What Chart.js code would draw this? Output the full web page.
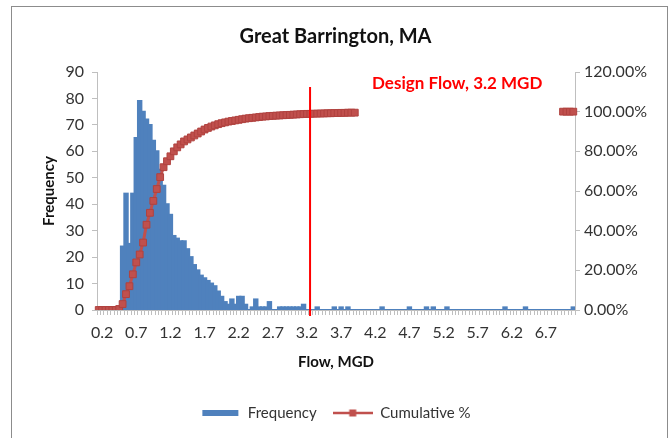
<!DOCTYPE html>
<html>
<head>
<meta charset="utf-8">
<script src="https://cdn.jsdelivr.net/npm/chart.js@4.4.1/dist/chart.umd.min.js"></script>
<style>
  html, body { margin: 0; padding: 0; background: #fff; }
  #wrap { position: relative; width: 671px; height: 438px; overflow: hidden; }
  #frame { position: absolute; left: 11px; top: 6px; width: 657px; height: 460px; border: 1px solid #8c8c8c; box-sizing: border-box; pointer-events: none; }
</style>
</head>
<body>
<div id="wrap">
  <canvas id="chart" width="671" height="438"></canvas>
  <div id="frame"></div>
</div>
<script>
// flow bins (MGD), 0.05 wide
const flowBins = [
  '0.15','0.20','0.25','0.30','0.35','0.40','0.45','0.50','0.55','0.60',
  '0.65','0.70','0.75','0.80','0.85','0.90','0.95','1.00','1.05','1.10',
  '1.15','1.20','1.25','1.30','1.35','1.40','1.45','1.50','1.55','1.60',
  '1.65','1.70','1.75','1.80','1.85','1.90','1.95','2.00','2.05','2.10',
  '2.15','2.20','2.25','2.30','2.35','2.40','2.45','2.50','2.55','2.60',
  '2.65','2.70','2.75','2.80','2.85','2.90','2.95','3.00','3.05','3.10',
  '3.15','3.20','3.25','3.30','3.35','3.40','3.45','3.50','3.55','3.60',
  '3.65','3.70','3.75','3.80','3.85','3.90','3.95','4.00','4.05','4.10',
  '4.15','4.20','4.25','4.30','4.35','4.40','4.45','4.50','4.55','4.60',
  '4.65','4.70','4.75','4.80','4.85','4.90','4.95','5.00','5.05','5.10',
  '5.15','5.20','5.25','5.30','5.35','5.40','5.45','5.50','5.55','5.60',
  '5.65','5.70','5.75','5.80','5.85','5.90','5.95','6.00','6.05','6.10',
  '6.15','6.20','6.25','6.30','6.35','6.40','6.45','6.50','6.55','6.60',
  '6.65','6.70','6.75','6.80','6.85','6.90','6.95','7.00','7.05','7.10'
];

const frequency = [
  0,0,0,0,0,0,0,24,44,25,
  44,65,79,75,72,70,64,60,53,47,
  40,36,28,27,26,26,23,20,17,15,
  13,12,11,10,9,7,5,3,2,4,
  2,5,5,2,0,1,4,1,1,1,
  3,0,0,1,1,1,1,1,1,1,
  2,0,0,0,1,0,0,0,0,1,
  0,1,0,1,0,0,0,0,0,0,
  0,0,0,1,0,0,0,0,0,0,
  0,1,0,0,0,0,1,0,1,0,
  0,0,1,0,0,0,0,0,0,0,
  0,0,0,0,0,0,0,0,0,1,
  0,0,0,0,0,1,0,0,0,0,
  0,0,0,0,0,0,0,0,0,1
];

// cumulative %, hidden part behind the note box left empty
const cumulative = [
  0,0,0,0,0,0,0.5,3,8,12,
  18,24,28,34,43,49,55,61,67,72,
  75,77.5,80,82,83.5,85,86,87,88,89,
  90,91,91.8,92.5,93.1,93.7,94.2,94.6,95,95.3,
  95.6,95.9,96.2,96.5,96.7,96.9,97.1,97.3,97.5,97.6,
  97.8,97.9,98,98.1,98.2,98.3,98.4,98.5,98.6,98.7,
  98.8,98.9,98.9,99,99,99.1,99.1,99.2,99.2,99.3,
  99.3,99.4,99.4,99.5,99.5,99.5,null,null,null,null,
  null,null,null,null,null,null,null,null,null,null,
  null,null,null,null,null,null,null,null,null,null,
  null,null,null,null,null,null,null,null,null,null,
  null,null,null,null,null,null,null,null,null,null,
  null,null,null,null,null,null,null,null,null,null,
  null,null,null,null,null,null,100,100,100,100
];

const tickLabels = ['0.2','0.7','1.2','1.7','2.2','2.7','3.2','3.7','4.2','4.7','5.2','5.7','6.2','6.7'];
const designIndex = 61; // 3.2 MGD
const designLabel = 'Design Flow, 3.2 MGD';

const BLUE = '#4F81BD';
const RED = '#C0504D';
const TXT = '#333333';
const AXIS = '#BFBFBF';
const FONT = 'Lato, "Open Sans", sans-serif';

function legendIcon(kind) {
  const c = document.createElement('canvas');
  c.width = 40; c.height = 10;
  const g = c.getContext('2d');
  if (kind === 'bar') {
    g.fillStyle = BLUE;
    g.fillRect(2, 2, 36, 6);
  } else {
    g.strokeStyle = RED;
    g.lineWidth = 2.5;
    g.beginPath(); g.moveTo(0, 5); g.lineTo(40, 5); g.stroke();
    g.fillStyle = RED;
    g.fillRect(16.5, 1.5, 7, 7);
  }
  return c;
}

const designFlow = {
  id: 'designFlow',
  afterDatasetsDraw(chart) {
    const {ctx, chartArea, scales} = chart;
    const x = scales.x.getPixelForValue(designIndex + 0.9);
    ctx.save();
    ctx.strokeStyle = '#FF0000';
    ctx.lineWidth = 2;
    ctx.beginPath();
    ctx.moveTo(x, chartArea.top + 15);
    ctx.lineTo(x, chartArea.bottom + 6);
    ctx.stroke();
    ctx.fillStyle = '#FF0000';
    ctx.font = 'bold 17px ' + FONT;
    ctx.textAlign = 'center';
    ctx.textBaseline = 'middle';
    ctx.fillText(designLabel, scales.x.getPixelForValue(105), scales.y1.getPixelForValue(114));
    ctx.restore();
  }
};

const cht = document.getElementById('chart');

new Chart(cht, {
  type: 'bar',
  data: {
    labels: flowBins,
    datasets: [
      {
        label: 'Frequency',
        data: frequency,
        backgroundColor: BLUE,
        borderWidth: 0,
        barPercentage: 1,
        categoryPercentage: 1,
        inflateAmount: 1,
        yAxisID: 'y',
        order: 2
      },
      {
        type: 'line',
        label: 'Cumulative %',
        data: cumulative,
        borderColor: RED,
        borderWidth: 3,
        pointStyle: 'rect',
        pointRadius: 4.8,
        pointBackgroundColor: RED,
        pointBorderColor: '#B0423F',
        pointBorderWidth: 1,
        spanGaps: false,
        yAxisID: 'y1',
        order: 1
      }
    ]
  },
  options: {
    responsive: false,
    animation: false,
    layout: { padding: { left: 0, right: 0, top: 0, bottom: 7.5 } },
    plugins: {
      tooltip: { enabled: false },
      title: {
        display: true,
        text: 'Great Barrington, MA',
        color: '#111',
        font: { family: FONT, size: 20, weight: 'bold' },
        padding: { top: 25, bottom: 23 }
      },
      legend: {
        position: 'bottom',
        labels: {
          usePointStyle: true,
          pointStyleWidth: 40,
          padding: 16,
          color: TXT,
          font: { family: FONT, size: 15 },
          generateLabels() {
            return [
              { text: 'Frequency', pointStyle: legendIcon('bar'), fillStyle: BLUE, strokeStyle: BLUE, lineWidth: 0, datasetIndex: 0, fontColor: TXT },
              { text: 'Cumulative %', pointStyle: legendIcon('line'), fillStyle: RED, strokeStyle: RED, lineWidth: 0, datasetIndex: 1, fontColor: TXT }
            ];
          }
        }
      }
    },
    scales: {
      x: {
        offset: true,
        grid: { display: true, drawOnChartArea: false, drawTicks: true, tickLength: 5, color: AXIS, offset: true },
        border: { color: AXIS },
        ticks: {
          autoSkip: false,
          maxRotation: 0,
          minRotation: 0,
          padding: 8,
          color: TXT,
          font: { family: FONT, size: 16 },
          callback(val) {
            const s = String(parseFloat(this.getLabelForValue(val)));
            return tickLabels.includes(s) ? s : '';
          }
        },
        title: {
          display: true,
          text: 'Flow, MGD',
          color: '#111',
          font: { family: FONT, size: 15, weight: 'bold' },
          padding: { top: 0, bottom: 18.5 }
        },
        afterFit(scale) { scale.height = 79.5; }
      },
      y: {
        position: 'left',
        min: 0,
        max: 90,
        grid: { drawOnChartArea: false, tickLength: 5, color: AXIS },
        border: { color: AXIS },
        ticks: { stepSize: 10, padding: 8, color: TXT, font: { family: FONT, size: 16 } },
        title: {
          display: true,
          text: 'Frequency',
          color: '#111',
          font: { family: FONT, size: 15, weight: 'bold' },
          padding: { top: 40, bottom: 0 }
        },
        afterFit(scale) { scale.width = 97; }
      },
      y1: {
        position: 'right',
        min: 0,
        max: 120,
        grid: { drawOnChartArea: false, tickLength: 5, color: AXIS },
        border: { color: AXIS },
        ticks: {
          stepSize: 20,
          padding: 4,
          color: TXT,
          font: { family: FONT, size: 16 },
          callback(v) { return v.toFixed(2) + '%'; }
        },
        afterFit(scale) { scale.width = 96; }
      }
    }
  },
  plugins: [designFlow]
});
</script>
</body>
</html>
